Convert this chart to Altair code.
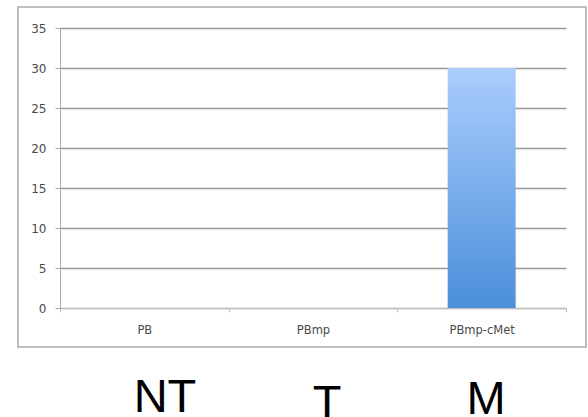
import altair as alt
import pandas as pd

categories = ["PB", "PBmp", "PBmp-cMet"]
values = [0, 0, 30]
y_ticks = [0, 5, 10, 15, 20, 25, 30, 35]
group_labels = ["NT", "T", "M"]

df = pd.DataFrame({"cat": categories, "val": values})
one = pd.DataFrame({"k": [0]})

W, H = 506, 280

frame = alt.Chart(one).mark_rect(
    fillOpacity=0, stroke="#ababab", strokeWidth=1.5
).encode(
    x=alt.value(-42), x2=alt.value(526), y=alt.value(-21), y2=alt.value(319)
)

grad = alt.LinearGradient(
    gradient="linear",
    stops=[alt.GradientStop(color="#aacdfd", offset=0),
           alt.GradientStop(color="#4b8fda", offset=1)],
    x1=0, x2=0, y1=0, y2=1,
)

bars = alt.Chart(df).mark_bar(size=68, color=grad).encode(
    x=alt.X("cat:N", sort=categories, title=None,
            scale=alt.Scale(paddingInner=0, paddingOuter=0),
            axis=alt.Axis(tickBand="extent", labelAngle=0, grid=False,
                          domainColor="#c0c0c0", tickColor="#c0c0c0",
                          tickSize=4, labelPadding=12, labelFont="DejaVu Sans",
                          labelFontSize=11.5, labelColor="#4a4a4a")),
    y=alt.Y("val:Q", title=None,
            scale=alt.Scale(domain=[0, 35], nice=False),
            axis=alt.Axis(values=y_ticks, grid=True, gridColor="#999999",
                          gridWidth=1.3, domainColor="#a8a8a8", tickColor="#a8a8a8",
                          tickSize=5, labelPadding=9, labelFont="DejaVu Sans",
                          labelFontSize=12, labelColor="#4a4a4a")),
)

def label(txt, xpos, ypos):
    return alt.Chart(one).mark_text(
        text=txt, font="Liberation Sans", fontSize=47, color="black",
        align="center", baseline="alphabetic"
    ).encode(x=alt.value(xpos), y=alt.value(ypos))

nt = label(group_labels[0], 105, 384)
t = label(group_labels[1], 267, 390)
m = label(group_labels[2], 426, 386)

chart = alt.layer(frame, bars, nt, t, m).properties(
    width=W, height=H,
    padding={"left": 60, "top": 28, "right": 22, "bottom": 109},
    autosize=alt.AutoSizeParams(type="none"),
    background="white",
).configure_view(stroke=None)

chart.save("out.html", embed_options={"renderer": "svg", "actions": False})
